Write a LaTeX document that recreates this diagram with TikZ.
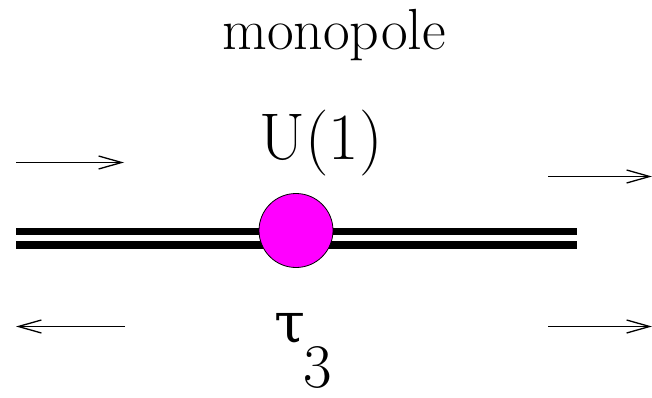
\documentclass[tikz,border=0pt]{standalone}
\usepackage{fontspec}
\newfontfamily\dvs{DejaVu Serif}
\usetikzlibrary{arrows.meta}
\definecolor{mag}{RGB}{255,0,255}
\begin{document}
\begin{tikzpicture}[x=1pt,y=-1pt,
  bar/.style={line width=7.7pt},
  flow/.style={line width=1.3pt,-{Straight Barb[length=23pt,width=13pt,line width=1.3pt]}},
  lbl/.style={inner sep=0pt,anchor=base}]
\useasboundingbox (0,0) rectangle (652,398);
% double line
\coordinate (l1) at (16,231.5);
\coordinate (r1) at (577,231.5);
\coordinate (l2) at (16,245);
\coordinate (r2) at (577,245);
\draw[bar] (l1) -- (r1);
\draw[bar] (l2) -- (r2);
\node[circle,draw=black,line width=0.8pt,fill=mag,minimum size=74pt,inner sep=0pt] (m) at (296,230.5) {};
% arrows
\coordinate (a1s) at (16,162.5);
\coordinate (a1e) at (124,162.5);
\coordinate (a2s) at (125,326.5);
\coordinate (a2e) at (16,326.5);
\coordinate (a3s) at (548,176.5);
\coordinate (a3e) at (652,176.5);
\coordinate (a4s) at (548,326.5);
\coordinate (a4e) at (652,326.5);
\draw[flow] (a1s) -- (a1e);
\draw[flow] (a2s) -- (a2e);
\draw[flow] (a3s) -- (a3e);
\draw[flow] (a4s) -- (a4e);
% labels
\node[lbl,font=\fontsize{58}{60}\selectfont] (mono) at (334,50) {monopole};
\node[lbl,font=\fontsize{66}{70}\selectfont] (u1) at (321,159) {U(1)};
\node[lbl,font=\dvs\fontsize{56}{60}\selectfont] (tau) at (290,342) {τ};
\node[lbl,font=\fontsize{62}{64}\selectfont] (three) at (318,387) {3};
\end{tikzpicture}
\end{document}
